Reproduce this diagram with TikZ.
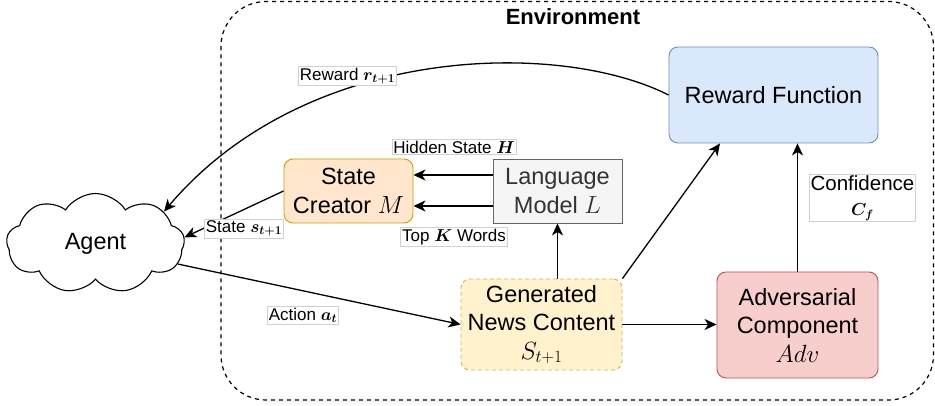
\documentclass[tikz,border=0pt]{standalone}
\usepackage{fontspec}
\setmainfont{Liberation Sans}
\usetikzlibrary{shapes.symbols,arrows.meta,calc}

% math variables, slightly larger than the surrounding text
\newcommand\vbig[1]{{\fontsize{26}{28}\selectfont$#1$}}
\newcommand\vsmall[1]{{\fontsize{18.5}{20}\selectfont\boldmath$#1$}}

\definecolor{scfill}{HTML}{FFE6CC}\definecolor{scdraw}{HTML}{D79B00}
\definecolor{lmfill}{HTML}{F5F5F5}\definecolor{lmdraw}{HTML}{666666}\definecolor{lmtext}{HTML}{333333}
\definecolor{rffill}{HTML}{DAE8FC}\definecolor{rfdraw}{HTML}{6C8EBF}
\definecolor{advfill}{HTML}{F8CECC}\definecolor{advdraw}{HTML}{B85450}
\definecolor{genfill}{HTML}{FFF2CC}\definecolor{gendraw}{HTML}{D6B656}

\begin{document}
\begin{tikzpicture}[x=1pt,y=-1pt,
  box/.style={draw, rounded corners=9pt, line width=0.9pt, align=center,
    inner sep=0pt, font=\fontsize{23.5}{28.5}\selectfont},
  lbl/.style={draw=black!18, line width=0.5pt, fill=white, inner sep=1.5pt,
    align=center, font=\fontsize{17}{20}\selectfont},
  arr/.style={line width=1.3pt, -{Stealth[length=12pt,width=11pt,inset=3.5pt]}}]

\useasboundingbox (0,0) rectangle (935,406);

% environment frame
\draw[line width=1.2pt, dash pattern=on 4pt off 4pt, rounded corners=45pt]
  (221,1.5) rectangle (933.5,400);
\node[font=\fontsize{22}{26}\selectfont\bfseries] (env) at (573,17) {Environment};

% blocks
\node[cloud, cloud puffs=9, cloud puff arc=115, aspect=2, draw, line width=1.1pt,
  minimum width=178pt, minimum height=100pt, inner sep=0pt,
  font=\fontsize{23.5}{28}\selectfont] (agent) at (95.5,243.5) {Agent};

\node[box, fill=scfill, draw=scdraw, minimum width=129pt, minimum height=64pt]
  (sc) at (348.5,191) {State\\Creator \vbig{M}};
\node[box, rounded corners=0pt, fill=lmfill, draw=lmdraw, text=lmtext,
  minimum width=129pt, minimum height=64pt]
  (lm) at (557.5,191) {Language\\Model \vbig{L}};
\node[box, fill=rffill, draw=rfdraw, minimum width=209pt, minimum height=96pt]
  (reward) at (773.5,95) {Reward Function};
\node[box, fill=advfill, draw=advdraw, minimum width=161pt, minimum height=106pt]
  (adv) at (797.5,325) {Adversarial\\Component\\\vbig{Adv}};
\node[box, fill=genfill, draw=gendraw, dash pattern=on 4pt off 3pt,
  minimum width=161pt, minimum height=91pt]
  (gen) at (541.5,324.5) {Generated\\News Content\\\vbig{S_{t+1}}};

% connectors
\draw[arr] (reward.west) .. controls (560,40) and (307,43) .. (agent.25);
\draw[arr] (sc.west) -- (agent.4);
\draw[arr] (agent.-14) -- (gen.west);
\draw[arr] ([yshift=16pt]lm.west) -- ([yshift=16pt]lm.west -| sc.east);
\draw[arr] ([yshift=-15pt]lm.west) -- ([yshift=-15pt]lm.west -| sc.east);
\draw[arr] (gen.north -| lm.south) -- (lm.south);
\draw[arr] (gen.north east) -- ($(reward.south west)!0.245!(reward.south east)$);
\draw[arr] (gen.east) -- (gen.east -| adv.west);
\draw[arr] (adv.north) -- (adv.north |- reward.south);

% edge labels
\node[lbl] (lreward) at (347.5,76) {Reward \vsmall{r_{t+1}}};
\node[lbl] (lhidden) at (454,147) {Hidden State \vsmall{H}};
\node[lbl] (ltopk) at (454,237) {Top \vsmall{K} Words};
\node[lbl] (lstate) at (244,228.5) {State \vsmall{s_{t+1}}};
\node[lbl] (laction) at (303,315.5) {Action \vsmall{a_t}};
\node[lbl, font=\fontsize{20.5}{25}\selectfont, inner sep=1pt] (lconf) at (862.5,198)
  {Confidence\\\vsmall{C_f}};
\end{tikzpicture}
\end{document}
